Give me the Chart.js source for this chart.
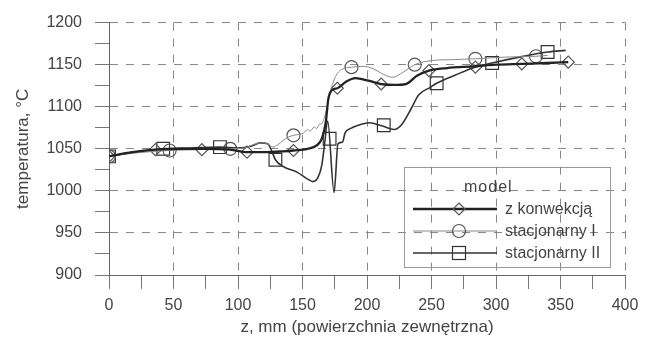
<!DOCTYPE html>
<html>
<head>
<meta charset="utf-8">
<script src="https://cdn.jsdelivr.net/npm/chart.js@4.4.0/dist/chart.umd.min.js"></script>
<style>
  body { margin: 0; background: #fff; }
  #wrap { position: relative; width: 655px; height: 340px; }
  #legend {
    position: absolute; left: 404px; top: 167px; width: 205px; height: 99px;
    border: 1px solid #999; font-family: "Liberation Sans", Arial, sans-serif;
    font-size: 16px; color: #444;
  }
  #legend .title { position: absolute; left: 59px; top: 10px; letter-spacing: 1px; }
  #legend .row { position: absolute; left: 8px; height: 18px; display: flex; align-items: center; }
  #legend .row span { margin-left: 8px; }
</style>
</head>
<body>
<div id="wrap">
  <canvas id="grafica" width="655" height="340"></canvas>
  <div id="legend"><div class="title">model</div></div>
</div>
<script>
// nazwy serii
const serie = ["z konwekcją", "stacjonarny I", "stacjonarny II"];

// z konwekcją - linia
const zKonw = [0, 18, 36, 55, 72, 94, 107, 121, 135, 143, 154, 161, 165, 168, 170, 173, 177, 184, 191, 201, 211, 221, 230, 239, 248, 262, 283, 300, 320, 340, 356];
const tKonw = [1041, 1046, 1049, 1050, 1050, 1049, 1046, 1046, 1047, 1048, 1050, 1054, 1062, 1081, 1109, 1120, 1122, 1130, 1134, 1131, 1127, 1126, 1127, 1137, 1143, 1146, 1148, 1150, 1151, 1152, 1153];
// z konwekcją - znaczniki
const zKonwPkt = [0, 36, 72, 107, 143, 177, 211, 248, 284, 320, 356];
const tKonwPkt = [1041, 1049, 1049, 1046, 1048, 1122, 1127, 1143, 1147, 1151, 1153];

// stacjonarny I - linia
const zStac1 = [0, 20, 47, 70, 94, 105, 112, 118, 123, 127, 131, 135, 139, 143, 147, 151, 154, 156, 159, 161, 163, 165, 168, 171.5, 175, 180, 188, 197, 205, 212, 220, 228, 237, 251, 267, 284, 307, 331, 340];
const tStac1 = [1041, 1045, 1048, 1049, 1050, 1051, 1055, 1057, 1056, 1052, 1055, 1060, 1064, 1066, 1067, 1069, 1073, 1071, 1076, 1074, 1079, 1080, 1093, 1117, 1134, 1144, 1147, 1148, 1145, 1139, 1135, 1141, 1150, 1155, 1156, 1157, 1159, 1160, 1161];
const zStac1Pkt = [0, 47, 94, 143, 188, 237, 284, 331];
const tStac1Pkt = [1041, 1048, 1050, 1066, 1147, 1150, 1157, 1160];

// stacjonarny II - linia
const zStac2 = [0, 20, 42, 60, 86, 100, 110, 117, 123, 126, 129, 135, 146, 154, 158, 162, 165, 167, 169.5, 174.5, 177.5, 181, 183, 187, 195, 202, 212, 221, 227, 234, 240, 249, 254, 269, 282, 297, 318, 340, 354];
const tStac2 = [1041, 1046, 1050, 1051, 1052, 1051, 1053, 1057, 1056, 1048, 1037, 1029, 1022, 1014, 1011, 1016, 1031, 1054, 1083, 998, 1056, 1058, 1069, 1074, 1079, 1081, 1077, 1073, 1079, 1097, 1114, 1123, 1128, 1138, 1146, 1152, 1159, 1165, 1167];
const zStac2Pkt = [0, 42, 86, 129, 171, 213, 254, 297, 340];
const tStac2Pkt = [1041, 1050, 1052, 1037, 1062, 1078, 1128, 1152, 1165];

// podziałki (co 25, opisy co 50)
const xTicks = [0, 25, 50, 75, 100, 125, 150, 175, 200, 225, 250, 275, 300, 325, 350, 375, 400];
const yTicks = [900, 925, 950, 975, 1000, 1025, 1050, 1075, 1100, 1125, 1150, 1175, 1200];

const pary = (zs, ts) => zs.map((z, i) => ({ x: z, y: ts[i] }));

// style serii
const style = [
  { color: "#222", width: 2.3, mark: "rectRot", r: 6, mColor: "#555" },
  { color: "#8a8a8a", width: 1, mark: "circle", r: 6.5, mColor: "#555" },
  { color: "#333", width: 1.6, mark: "rect", r: 9, mColor: "#333" },
];

const linie = [pary(zKonw, tKonw), pary(zStac1, tStac1), pary(zStac2, tStac2)];
const znaczniki = [pary(zKonwPkt, tKonwPkt), pary(zStac1Pkt, tStac1Pkt), pary(zStac2Pkt, tStac2Pkt)];

const datasets = [];
linie.forEach((d, i) => {
  datasets.push({
    label: serie[i], data: d, showLine: true, pointRadius: 0,
    borderColor: style[i].color, borderWidth: style[i].width,
    cubicInterpolationMode: "monotone",
  });
});
znaczniki.forEach((d, i) => {
  datasets.push({
    label: serie[i] + " pkt", data: d, showLine: false,
    pointStyle: style[i].mark, pointRadius: style[i].r,
    pointBorderColor: style[i].mColor, pointBorderWidth: 1.2,
    pointBackgroundColor: "rgba(0,0,0,0)",
  });
});

Chart.defaults.font.family = '"Liberation Sans", Arial, sans-serif';
Chart.defaults.color = "#444";

const glowna = (v) => v % 50 === 0;

new Chart(document.getElementById("grafica"), {
  type: "scatter",
  data: { datasets },
  options: {
    responsive: false,
    animation: false,
    devicePixelRatio: 1,
    layout: { padding: { left: 0, right: 30, top: 18, bottom: 0 } },
    plugins: { legend: { display: false }, tooltip: { enabled: false } },
    scales: {
      x: {
        type: "linear", min: 0, max: 400,
        afterBuildTicks: (s) => { s.ticks = xTicks.map((v) => ({ value: v })); },
        ticks: { padding: 7, font: { size: 16 }, maxRotation: 0, autoSkip: false,
          callback: (v) => (glowna(v) ? String(v) : "") },
        grid: {
          color: (c) => (glowna(c.tick.value) ? "#888" : "rgba(0,0,0,0)"),
          tickColor: "#777", tickLength: 14,
        },
        border: { display: true, color: "#666", dash: [8, 8] },
        title: { display: true, text: "z, mm (powierzchnia zewnętrzna)", font: { size: 17 }, padding: { top: 0, bottom: 2 } },
        afterFit: (s) => { s.height = 65; },
      },
      y: {
        type: "linear", min: 900, max: 1200,
        afterBuildTicks: (s) => { s.ticks = yTicks.map((v) => ({ value: v })); },
        ticks: { padding: 13, font: { size: 16 }, autoSkip: false,
          callback: (v) => (glowna(v) ? String(v) : "") },
        grid: {
          color: (c) => (glowna(c.tick.value) ? "#888" : "rgba(0,0,0,0)"),
          tickColor: "#777", tickLength: 14,
        },
        border: { display: true, color: "#666", dash: [8, 8] },
        title: { display: true, text: "temperatura, °C", font: { size: 17 }, padding: { top: 13, bottom: 0 } },
        afterFit: (s) => { s.width = 109; },
      },
    },
  },
});

// legenda
const leg = document.getElementById("legend");
const wiersze = [41, 63, 85];
serie.forEach((nazwa, i) => {
  const s = style[i];
  let mark = "";
  if (s.mark === "rectRot") mark = '<polygon points="46,3 52,9 46,15 40,9" fill="none" stroke="' + s.mColor + '" stroke-width="1.2"/>';
  if (s.mark === "circle") mark = '<circle cx="46" cy="9" r="6.5" fill="none" stroke="' + s.mColor + '" stroke-width="1.2"/>';
  if (s.mark === "rect") mark = '<rect x="39.5" y="2.5" width="13" height="13" fill="none" stroke="' + s.mColor + '" stroke-width="1.2"/>';
  const row = document.createElement("div");
  row.className = "row";
  row.style.top = (wiersze[i] - 9) + "px";
  row.innerHTML = '<svg width="84" height="18"><line x1="0" y1="9" x2="84" y2="9" stroke="' + s.color +
    '" stroke-width="' + s.width + '"/>' + mark + "</svg><span>" + nazwa + "</span>";
  leg.appendChild(row);
});
</script>
</body>
</html>
